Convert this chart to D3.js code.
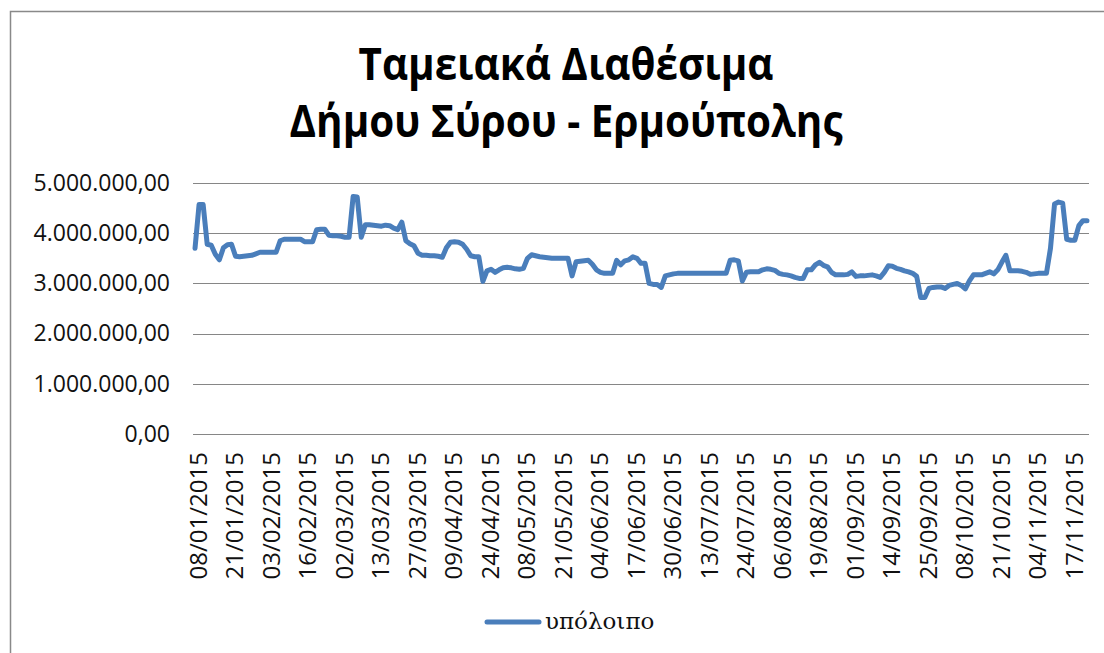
<!DOCTYPE html>
<html>
<head>
<meta charset="utf-8">
<script src="https://cdn.jsdelivr.net/npm/d3@7"></script>
<style>
  body { margin: 0; background: #fff; }
  svg { display: block; }
</style>
</head>
<body>
<div class="chart-container"></div>
<script>
// daily balance (euro), business days from 08/01/2015
const balance1 = [3700000, 4570000, 4570000, 3780000, 3760000, 3580000, 3470000, 3710000, 3770000, 3780000,
  3540000, 3530000, 3540000, 3550000, 3560000, 3590000, 3620000, 3620000, 3620000, 3620000,
  3620000, 3850000, 3880000, 3880000, 3880000, 3880000, 3880000, 3830000, 3830000, 3830000,
  4070000, 4080000, 4080000, 3960000, 3950000, 3950000, 3940000, 3920000, 3920000, 4730000,
  4720000, 3920000, 4170000, 4170000, 4160000];
const balance2 = [4150000, 4140000, 4160000, 4150000, 4100000, 4070000, 4220000, 3850000, 3790000, 3750000,
  3600000, 3560000, 3560000, 3550000, 3550000, 3540000, 3520000, 3710000, 3820000, 3830000,
  3820000, 3780000, 3680000, 3550000, 3530000, 3530000, 3040000, 3250000, 3280000, 3220000,
  3270000, 3310000, 3320000, 3310000, 3290000, 3280000, 3300000, 3500000, 3570000, 3550000,
  3530000, 3520000, 3510000, 3500000, 3500000];
const balance3 = [3500000, 3500000, 3500000, 3150000, 3430000, 3440000, 3450000, 3460000, 3380000, 3270000,
  3220000, 3200000, 3200000, 3200000, 3460000, 3370000, 3450000, 3470000, 3530000, 3500000,
  3400000, 3400000, 3000000, 2980000, 2980000, 2920000, 3150000, 3170000, 3190000, 3200000,
  3200000, 3200000, 3200000, 3200000, 3200000, 3200000, 3200000, 3200000, 3200000, 3200000,
  3200000, 3200000, 3460000, 3470000, 3450000];
const balance4 = [3050000, 3220000, 3230000, 3230000, 3230000, 3270000, 3290000, 3280000, 3260000, 3200000,
  3180000, 3170000, 3150000, 3120000, 3100000, 3100000, 3270000, 3270000, 3370000, 3420000,
  3360000, 3330000, 3220000, 3170000, 3170000, 3170000, 3180000, 3230000, 3140000, 3150000,
  3150000, 3160000, 3170000, 3150000, 3120000, 3220000, 3350000, 3340000, 3300000, 3280000,
  3250000, 3230000, 3200000, 3140000, 2720000];
const balance5 = [2720000, 2900000, 2920000, 2930000, 2930000, 2900000, 2960000, 2980000, 3000000, 2960000,
  2890000, 3050000, 3170000, 3170000, 3170000, 3200000, 3230000, 3190000, 3270000, 3420000,
  3560000, 3250000, 3250000, 3250000, 3240000, 3220000, 3180000, 3190000, 3200000, 3200000,
  3200000, 3700000, 4580000, 4620000, 4600000, 3880000, 3860000, 3860000, 4150000, 4250000,
  4250000];

// bank holidays (no entry on these days)
const holidays = ["2015-01-06", "2015-02-23", "2015-03-25", "2015-04-10", "2015-04-13",
  "2015-05-01", "2015-06-01", "2015-10-28"];
const firstDay = "2015-01-08";
const lastDay = "2015-11-23";
const yTicks = [0, 1000000, 2000000, 3000000, 4000000, 5000000];
const labelEvery = 9;

const titleLines = ["Ταμειακά Διαθέσιμα", "Δήμου Σύρου - Ερμούπολης"];
const seriesName = "υπόλοιπο";

const balance = [].concat(balance1, balance2, balance3, balance4, balance5);

const parse = d3.timeParse("%Y-%m-%d");
const fmtDay = d3.timeFormat("%d/%m/%Y");
const skip = new Set(holidays);
const dates = d3.timeDay.range(parse(firstDay), d3.timeDay.offset(parse(lastDay), 1))
  .filter(d => d.getDay() !== 0 && d.getDay() !== 6 && !skip.has(d3.timeFormat("%Y-%m-%d")(d)));

const data = balance.map((v, i) => ({ i: i, date: dates[i], value: v }));

const w = 1104;
const h = 653;
const margin = { top: 183, bottom: 219, left: 193, right: 15 };

const greek = d3.formatLocale({ decimal: ",", thousands: ".", grouping: [3], currency: ["", "€"] });
const format = greek.format(",.2f");

const x = d3.scalePoint()
  .domain(d3.range(balance.length))
  .range([margin.left, w - margin.right])
  .padding(0.5);

const y = d3.scaleLinear()
  .domain([0, 5000000])
  .range([h - margin.bottom, margin.top]);

const svg = d3.select(".chart-container")
  .append("svg")
  .attr("width", w)
  .attr("height", h);

// chart area frame
svg.append("rect")
  .attr("x", 10.5)
  .attr("y", 11.5)
  .attr("width", w + 20)
  .attr("height", h + 20)
  .attr("fill", "#fff")
  .attr("stroke", "#898989")
  .attr("stroke-width", 1.5);

// title
const titleWidths = [415, 553];
svg.append("g")
  .attr("class", "title")
  .selectAll("text")
  .data(titleLines)
  .enter().append("text")
    .attr("x", 566)
    .attr("y", (d, i) => 80 + i * 57)
    .attr("text-anchor", "middle")
    .attr("textLength", (d, i) => titleWidths[i])
    .attr("lengthAdjust", "spacingAndGlyphs")
    .style("font-family", "'Open Sans', 'Noto Sans', sans-serif")
    .style("font-weight", "bold")
    .style("font-size", "44px")
    .style("fill", "#000")
    .text(d => d);

// gridlines
svg.append("g")
  .attr("class", "grid")
  .selectAll("line")
  .data(yTicks)
  .enter().append("line")
    .attr("x1", margin.left)
    .attr("x2", w - margin.right)
    .attr("y1", d => Math.round(y(d)) + 0.5)
    .attr("y2", d => Math.round(y(d)) + 0.5)
    .attr("stroke", "#868686")
    .attr("stroke-width", 1.2);

// y axis labels
const yAxis = svg.append("g")
  .attr("transform", "translate(170,0)")
  .call(d3.axisLeft(y).tickValues(yTicks).tickSize(0).tickPadding(0).tickFormat(format));
yAxis.select(".domain").remove();
yAxis.selectAll("text")
  .style("font-family", "'Open Sans', sans-serif")
  .style("font-size", "23px")
  .style("fill", "#111");

// x axis labels, every 9th business day
const xAxis = svg.append("g")
  .attr("transform", `translate(3,${h - margin.bottom})`)
  .call(d3.axisBottom(x)
    .tickValues(d3.range(0, balance.length, labelEvery))
    .tickSize(0)
    .tickFormat(i => fmtDay(dates[i])));
xAxis.select(".domain").remove();
xAxis.selectAll("text")
  .attr("transform", "rotate(-90)")
  .attr("x", -18)
  .attr("y", 0)
  .attr("dy", "0.35em")
  .attr("text-anchor", "end")
  .style("font-family", "'Open Sans', sans-serif")
  .style("font-size", "24px")
  .style("fill", "#111");

// the series line
const line = d3.line()
  .x(d => x(d.i))
  .y(d => y(d.value));

svg.append("path")
  .datum(data)
  .attr("class", "balance-line")
  .attr("d", line)
  .attr("fill", "none")
  .attr("stroke", "#4a7ebb")
  .attr("stroke-width", 5)
  .attr("stroke-linejoin", "round")
  .attr("stroke-linecap", "round");

// legend
const legend = svg.append("g")
  .attr("class", "legend")
  .attr("transform", "translate(487,622)");
legend.append("line")
  .attr("x1", 0)
  .attr("x2", 52)
  .attr("stroke", "#4a7ebb")
  .attr("stroke-width", 5)
  .attr("stroke-linecap", "round");
legend.append("text")
  .attr("x", 58)
  .attr("y", 7)
  .style("font-family", "'DejaVu Serif', 'Liberation Serif', serif")
  .style("font-size", "23px")
  .style("fill", "#111")
  .text(seriesName);
</script>
</body>
</html>
